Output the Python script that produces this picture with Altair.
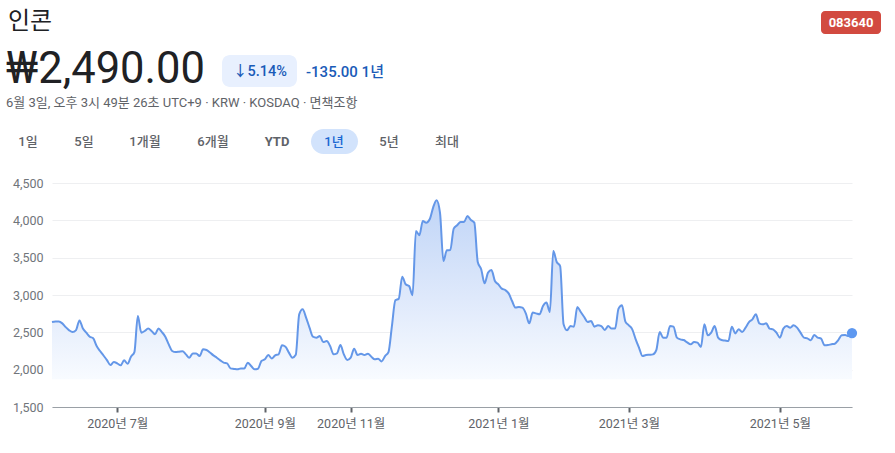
import altair as alt
import pandas as pd

# ---------------- data ----------------
prices = [
    2638, 2645, 2645, 2620, 2570, 2527, 2504, 2530, 2660, 2550, 2495, 2442, 2420, 2316, 2250,
    2190, 2128, 2062, 2102, 2085, 2058, 2125, 2080, 2174, 2236, 2718, 2496, 2518, 2550, 2518,
    2473, 2550, 2504, 2442, 2339, 2250, 2236, 2240, 2245, 2205, 2160, 2218, 2218, 2182, 2272,
    2263, 2230, 2192, 2160, 2125, 2094, 2085, 2017, 2010, 2004, 2017, 2017, 2094, 2049, 2004,
    2013, 2115, 2138, 2196, 2151, 2192, 2205, 2326, 2308, 2228, 2160, 2200, 2741, 2808, 2697,
    2563, 2442, 2429, 2450, 2370, 2383, 2316, 2205, 2218, 2330, 2205, 2129, 2160, 2281, 2196,
    2214, 2196, 2214, 2174, 2138, 2147, 2111, 2182, 2236, 2584, 2929, 2951, 3246, 3143, 3120,
    2996, 3857, 3800, 3991, 3969, 4014, 4171, 4269, 4104, 3455, 3598, 3602, 3889, 3933, 3978,
    3978, 4058, 4005, 3969, 3442, 3344, 3156, 3300, 3334, 3187, 3143, 3085, 3067, 3022, 2919,
    2831, 2839, 2831, 2754, 2620, 2764, 2754, 2741, 2852, 2898, 2772, 3589, 3442, 3388, 2607,
    2527, 2584, 2576, 2839, 2772, 2705, 2638, 2651, 2576, 2594, 2584, 2531, 2584, 2550, 2550,
    2817, 2862, 2643, 2594, 2540, 2406, 2290, 2182, 2196, 2200, 2205, 2263, 2504, 2429, 2429,
    2584, 2576, 2429, 2406, 2397, 2365, 2339, 2370, 2362, 2303, 2607, 2460, 2496, 2584, 2429,
    2397, 2390, 2383, 2576, 2486, 2540, 2504, 2563, 2638, 2674, 2741, 2620, 2607, 2620, 2550,
    2540, 2496, 2429, 2550, 2584, 2563, 2594, 2563, 2496, 2429, 2420, 2393, 2464, 2429, 2415,
    2326, 2330, 2340, 2348, 2397, 2460, 2464, 2450, 2490,
]
tick_index = [19, 62, 87, 130, 168, 212]
tick_labels = ["2020년 7월", "2020년 9월", "2020년 11월", "2021년 1월", "2021년 3월", "2021년 5월"]
y_ticks = [1500, 2000, 2500, 3000, 3500, 4000, 4500]

name = "인콘"
price_text = "₩2,490.00"
change_pct = "↓5.14%"
change_abs = "-135.00 1년"
meta = "6월 3일, 오후 3시 49분 26초 UTC+9 · KRW · KOSDAQ · 면책조항"
ranges = ["1일", "5일", "1개월", "6개월", "YTD", "1년", "5년", "최대"]
selected_range = "1년"
ticker = "083640"

# ---------------- layout / style ----------------
FONT = "Roboto, 'Noto Sans CJK KR', sans-serif"
OX, OY = 52, 183  # plot origin in the page
range_centers = [28, 84, 145, 213, 277, 334, 389, 447]

df = pd.DataFrame({"i": list(range(len(prices))), "p": prices})
last = df.tail(1)
one = pd.DataFrame({"k": [0]})

label_expr = "[" + ",".join(f"'{t}'" for t in tick_labels) + "][indexof([" + \
    ",".join(str(v) for v in tick_index) + "], datum.value)]"

X = alt.X(
    "i:Q",
    scale=alt.Scale(domain=[0, len(prices) - 1], nice=False, zero=False),
    axis=alt.Axis(
        values=tick_index, labelExpr=label_expr, title=None, grid=False,
        domain=True, domainColor="#9aa0a6", domainWidth=1.2,
        ticks=True, tickSize=5, tickWidth=2, tickColor="#5f6368",
        labelFont=FONT, labelFontSize=12.5, labelColor="#5f6368", labelPadding=5,
    ),
)
Y = alt.Y(
    "p:Q",
    scale=alt.Scale(domain=[1500, 4500], nice=False, zero=False),
    axis=alt.Axis(
        values=y_ticks, format=",d", title=None, grid=True, gridColor="#eeeff1",
        domain=False, ticks=False, labelPadding=9,
        labelFont=FONT, labelFontSize=12.5, labelColor="#70757a",
    ),
)

area = alt.Chart(df).mark_area(
    interpolate="monotone",
    color=alt.Gradient(
        gradient="linear",
        stops=[
            alt.GradientStop(color="#c0d5f7", offset=0),
            alt.GradientStop(color="#dfe9fb", offset=0.55),
            alt.GradientStop(color="#f8fbff", offset=1),
        ],
        x1=1, x2=1, y1=0, y2=1,
    ),
).encode(x=X, y=Y, y2=alt.datum(1870))

line = alt.Chart(df).mark_line(
    interpolate="monotone", color="#6497e8", strokeWidth=2
).encode(x=X, y=Y)

dot = alt.Chart(last).mark_circle(size=105, color="#5e98f0", opacity=1).encode(x=X, y=Y)


def txt(t, x, y, size, color="#202124", weight="normal", align="left",
        baseline="middle", font=FONT):
    return alt.Chart(one).mark_text(
        text=t, fontSize=size, color=color, fontWeight=weight, align=align,
        baseline=baseline, font=font,
    ).encode(x=alt.value(x - OX), y=alt.value(y - OY))


def box(x1, x2, y1, y2, color, r):
    return alt.Chart(one).mark_rect(color=color, cornerRadius=r).encode(
        x=alt.value(x1 - OX), x2=alt.value(x2 - OX),
        y=alt.value(y1 - OY), y2=alt.value(y2 - OY),
    )


layers = [
    area, line, dot,
    txt(name, 8, 22, 24),
    txt(price_text, 6, 83, 43.5, baseline="alphabetic"),
    box(222, 297, 55, 87, "#e8f0fe", 8),
    txt(change_pct, 260, 71.5, 14.5, color="#1a5bb8", weight=500, align="center"),
    txt(change_abs, 306, 71.5, 15, color="#1a5bb8", weight=500),
    txt(meta, 6, 103, 13, color="#5f6368"),
    box(311, 358, 129, 154, "#d2e3fc", 12.5),
    box(821, 881, 11, 34, "#d24a40", 4),
    txt(ticker, 851, 22.5, 13, color="#ffffff", weight="bold", align="center"),
]
for r, cx in zip(ranges, range_centers):
    sel = r == selected_range
    layers.append(
        txt(r, cx, 141.5, 13, color="#1967d2" if sel else "#5f6368",
            weight="bold" if r == "YTD" else 500, align="center")
    )

chart = alt.layer(*layers).properties(
    width=800, height=224,
    autosize=alt.AutoSizeParams(type="none"),
    padding={"left": OX, "top": OY, "right": 43, "bottom": 46},
    background="#ffffff",
).configure_view(stroke=None)

chart.save("out.html", embed_options={"renderer": "svg", "actions": False})
